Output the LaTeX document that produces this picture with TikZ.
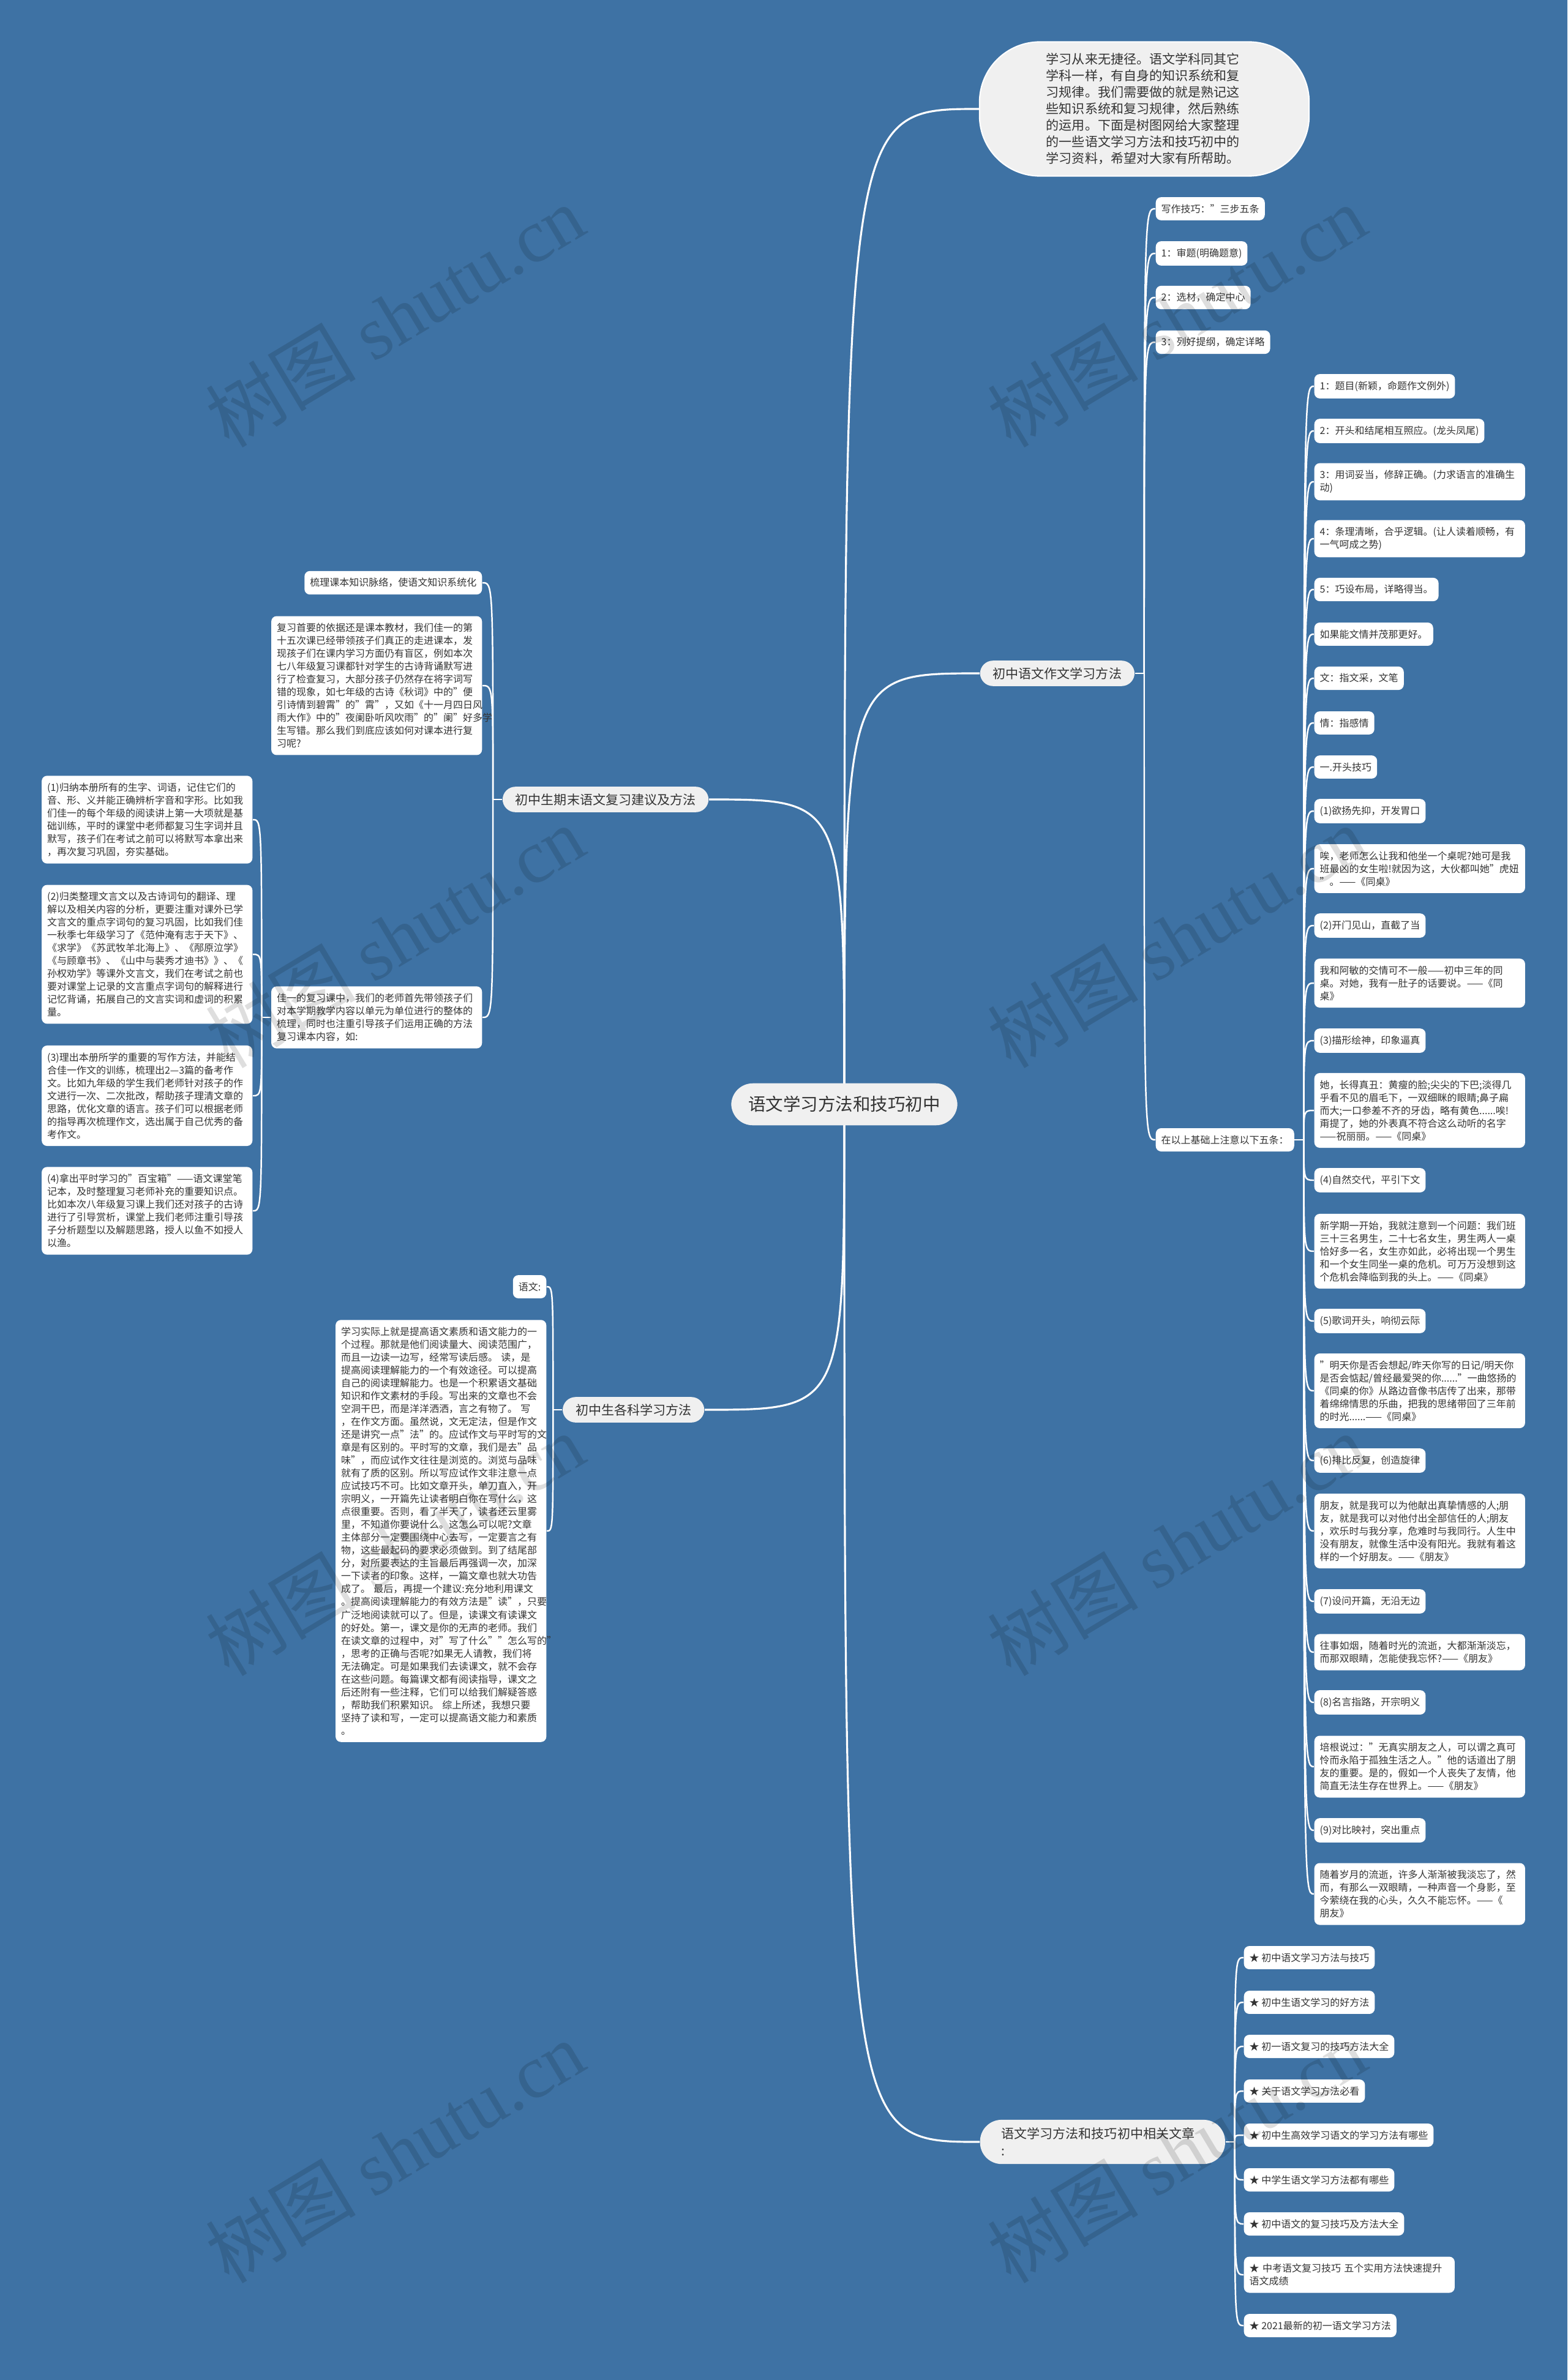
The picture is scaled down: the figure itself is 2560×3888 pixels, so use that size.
\documentclass[tikz,border=0pt]{standalone}
\usepackage{fontspec}
\setmainfont{Noto Sans CJK SC}
\newfontfamily\wmfont{Liberation Serif}
\usetikzlibrary{backgrounds}
\definecolor{bgblue}{RGB}{62,114,164}
\definecolor{pillgray}{RGB}{240,240,240}
\definecolor{inkgray}{RGB}{51,51,51}

\begin{document}
\begin{tikzpicture}[x=0.01cm,y=-0.01cm,
  every node/.style={text=inkgray},
  root node/.style={fill=pillgray,rounded corners=10pt,inner xsep=0.28cm,inner ysep=0.21cm,
    font=\fontsize{8.1pt}{10pt}\selectfont},
  branch node/.style={fill=pillgray,rounded corners=6pt,inner xsep=0.21cm,inner ysep=0.11cm,
    font=\fontsize{5.98pt}{7.97pt}\selectfont},
  leaf node/.style={fill=white,rounded corners=2.5pt,inner xsep=0.09cm,inner ysep=0.115cm,
    font=\fontsize{4.55pt}{5.98pt}\selectfont},
  note node/.style={leaf node,text width=3.26cm,align=left},
  link/.style={draw=white,line width=0.9pt},
  twig/.style={draw=white,line width=0.7pt}]
  \useasboundingbox (0,0) rectangle (2560,3888);

  % centre and main branches
  \node[root node] (root) at (1379,1804) {语文学习方法和技巧初中};
  \node[fill=pillgray,draw=white,line width=0.6pt,rounded corners=28pt,minimum width=5.38cm,
    minimum height=2.19cm,text width=3.2cm,align=left,
    font=\fontsize{5.98pt}{7.68pt}\selectfont] (intro) at (1869,178)
    {学习从来无捷径。语文学科同其它\\学科一样，有自身的知识系统和复\\习规律。我们需要做的就是熟记这\\些知识系统和复习规律，然后熟练\\的运用。下面是树图网给大家整理\\的一些语文学习方法和技巧初中的\\学习资料，希望对大家有所帮助。};
  \node[branch node,anchor=west] (write) at (1600,1100) {初中语文作文学习方法};
  \node[branch node,anchor=east] (review) at (1158,1306) {初中生期末语文复习建议及方法};
  \node[branch node,anchor=east] (subjects) at (1151,2303) {初中生各科学习方法};
  \node[branch node,anchor=west,text width=3.3cm,align=left,inner xsep=0.35cm,
    inner ysep=0.13cm,rounded corners=10pt] (related) at (1600,3499)
    {语文学习方法和技巧初中相关文章\\:};

  % writing
  \node[leaf node,anchor=west] (skill) at (1887,341) {写作技巧："三步五条};
  \node[leaf node,anchor=west] (step1) at (1887,414) {1：审题(明确题意)};
  \node[leaf node,anchor=west] (step2) at (1887,486) {2：选材，确定中心};
  \node[leaf node,anchor=west] (step3) at (1887,559) {3：列好提纲，确定详略};
  \node[leaf node,anchor=west] (five) at (1887,1862) {在以上基础上注意以下五条：};

  \node[leaf node,anchor=west] (f1) at (2146,631) {1：题目(新颖，命题作文例外)};
  \node[leaf node,anchor=west] (f2) at (2146,704) {2：开头和结尾相互照应。(龙头凤尾)};
  \node[note node,anchor=west] (f3) at (2146,787) {3：用词妥当，修辞正确。(力求语言的准确生\\动)};
  \node[note node,anchor=west] (f4) at (2146,880) {4：条理清晰，合乎逻辑。(让人读着顺畅，有\\一气呵成之势)};
  \node[leaf node,anchor=west] (f5) at (2146,963) {5：巧设布局，详略得当。};
  \node[leaf node,anchor=west] (f6) at (2146,1036) {如果能文情并茂那更好。};
  \node[leaf node,anchor=west] (f7) at (2146,1108) {文：指文采，文笔};
  \node[leaf node,anchor=west] (f8) at (2146,1181) {情：指感情};
  \node[leaf node,anchor=west] (f9) at (2146,1253) {一.开头技巧};
  \node[leaf node,anchor=west] (f10) at (2146,1325) {(1)欲扬先抑，开发胃口};
  \node[note node,anchor=west] (f11) at (2146,1419) {唉，老师怎么让我和他坐一个桌呢?她可是我\\班最凶的女生啦!就因为这，大伙都叫她"虎妞\\"。——《同桌》};
  \node[leaf node,anchor=west] (f12) at (2146,1512) {(2)开门见山，直截了当};
  \node[note node,anchor=west] (f13) at (2146,1606) {我和阿敏的交情可不一般——初中三年的同\\桌。对她，我有一肚子的话要说。——《同\\桌》};
  \node[leaf node,anchor=west] (f14) at (2146,1700) {(3)描形绘神，印象逼真};
  \node[note node,anchor=west] (f15) at (2146,1814) {她，长得真丑：黄瘦的脸;尖尖的下巴;淡得几\\乎看不见的眉毛下，一双细眯的眼睛;鼻子扁\\而大;一口参差不齐的牙齿，略有黄色......唉!\\甭提了，她的外表真不符合这么动听的名字\\——祝丽丽。——《同桌》};
  \node[leaf node,anchor=west] (f16) at (2146,1928) {(4)自然交代，平引下文};
  \node[note node,anchor=west] (f17) at (2146,2044) {新学期一开始，我就注意到一个问题：我们班\\三十三名男生，二十七名女生，男生两人一桌\\恰好多一名，女生亦如此，必将出现一个男生\\和一个女生同坐一桌的危机。可万万没想到这\\个危机会降临到我的头上。——《同桌》};
  \node[leaf node,anchor=west] (f18) at (2146,2158) {(5)歌词开头，响彻云际};
  \node[note node,anchor=west] (f19) at (2146,2272) {"明天你是否会想起/昨天你写的日记/明天你\\是否会惦起/曾经最爱哭的你......"一曲悠扬的\\《同桌的你》从路边音像书店传了出来，那带\\着绵绵情思的乐曲，把我的思绪带回了三年前\\的时光......——《同桌》};
  \node[leaf node,anchor=west] (f20) at (2146,2386) {(6)排比反复，创造旋律};
  \node[note node,anchor=west] (f21) at (2146,2501) {朋友，就是我可以为他献出真挚情感的人;朋\\友，就是我可以对他付出全部信任的人;朋友\\，欢乐时与我分享，危难时与我同行。人生中\\没有朋友，就像生活中没有阳光。我就有着这\\样的一个好朋友。——《朋友》};
  \node[leaf node,anchor=west] (f22) at (2146,2616) {(7)设问开篇，无沿无边};
  \node[note node,anchor=west] (f23) at (2146,2699) {往事如烟，随着时光的流逝，大都渐渐淡忘，\\而那双眼睛，怎能使我忘怀?——《朋友》};
  \node[leaf node,anchor=west] (f24) at (2146,2781) {(8)名言指路，开宗明义};
  \node[note node,anchor=west] (f25) at (2146,2886) {培根说过："无真实朋友之人，可以谓之真可\\怜而永陷于孤独生活之人。"他的话道出了朋\\友的重要。是的，假如一个人丧失了友情，他\\简直无法生存在世界上。——《朋友》};
  \node[leaf node,anchor=west] (f26) at (2146,2990) {(9)对比映衬，突出重点};
  \node[note node,anchor=west] (f27) at (2146,3094) {随着岁月的流逝，许多人渐渐被我淡忘了，然\\而，有那么一双眼睛，一种声音一个身影，至\\今萦绕在我的心头，久久不能忘怀。——《\\朋友》};

  % review
  \node[leaf node,anchor=east] (sort) at (788,952) {梳理课本知识脉络，使语文知识系统化};
  \node[note node,anchor=east] (basis) at (788,1120) {复习首要的依据还是课本教材，我们佳一的第\\十五次课已经带领孩子们真正的走进课本，发\\现孩子们在课内学习方面仍有盲区，例如本次\\七八年级复习课都针对学生的古诗背诵默写进\\行了检查复习，大部分孩子仍然存在将字词写\\错的现象，如七年级的古诗《秋词》中的"便\\引诗情到碧霄"的"霄"，又如《十一月四日风\\雨大作》中的"夜阑卧听风吹雨"的"阑"好多学\\生写错。那么我们到底应该如何对课本进行复\\习呢?};
  \node[note node,anchor=east] (lesson) at (788,1662) {佳一的复习课中，我们的老师首先带领孩子们\\对本学期教学内容以单元为单位进行的整体的\\梳理，同时也注重引导孩子们运用正确的方法\\复习课本内容，如:};
  \node[note node,anchor=east] (tip1) at (413,1339) {(1)归纳本册所有的生字、词语，记住它们的\\音、形、义并能正确辨析字音和字形。比如我\\们佳一的每个年级的阅读讲上第一大项就是基\\础训练，平时的课堂中老师都复习生字词并且\\默写，孩子们在考试之前可以将默写本拿出来\\，再次复习巩固，夯实基础。};
  \node[note node,anchor=east] (tip2) at (413,1559) {(2)归类整理文言文以及古诗词句的翻译、理\\解以及相关内容的分析，更要注重对课外已学\\文言文的重点字词句的复习巩固，比如我们佳\\一秋季七年级学习了《范仲淹有志于天下》、\\《求学》《苏武牧羊北海上》、《邴原泣学》\\《与顾章书》、《山中与裴秀才迪书》》、《\\孙权劝学》等课外文言文，我们在考试之前也\\要对课堂上记录的文言重点字词句的解释进行\\记忆背诵，拓展自己的文言实词和虚词的积累\\量。};
  \node[note node,anchor=east] (tip3) at (413,1790) {(3)理出本册所学的重要的写作方法，并能结\\合佳一作文的训练，梳理出2—3篇的备考作\\文。比如九年级的学生我们老师针对孩子的作\\文进行一次、二次批改，帮助孩子理清文章的\\思路，优化文章的语言。孩子们可以根据老师\\的指导再次梳理作文，选出属于自己优秀的备\\考作文。};
  \node[note node,anchor=east] (tip4) at (413,1978) {(4)拿出平时学习的"百宝箱"——语文课堂笔\\记本，及时整理复习老师补充的重要知识点。\\比如本次八年级复习课上我们还对孩子的古诗\\进行了引导赏析，课堂上我们老师注重引导孩\\子分析题型以及解题思路，授人以鱼不如授人\\以渔。};

  % subjects
  \node[leaf node,anchor=east] (yuwen) at (893,2102) {语文:};
  \node[note node,anchor=east] (essay) at (893,2501) {学习实际上就是提高语文素质和语文能力的一\\个过程。那就是他们阅读量大、阅读范围广，\\而且一边读一边写，经常写读后感。 读，是\\提高阅读理解能力的一个有效途径。可以提高\\自己的阅读理解能力。也是一个积累语文基础\\知识和作文素材的手段。写出来的文章也不会\\空洞干巴，而是洋洋洒洒，言之有物了。 写\\，在作文方面。虽然说，文无定法，但是作文\\还是讲究一点"法"的。应试作文与平时写的文\\章是有区别的。平时写的文章，我们是去"品\\味"，而应试作文往往是浏览的。浏览与品味\\就有了质的区别。所以写应试作文非注意一点\\应试技巧不可。比如文章开头，单刀直入，开\\宗明义，一开篇先让读者明白你在写什么，这\\点很重要。否则，看了半天了，读者还云里雾\\里，不知道你要说什么。这怎么可以呢?文章\\主体部分一定要围绕中心去写，一定要言之有\\物，这些最起码的要求必须做到。到了结尾部\\分，对所要表达的主旨最后再强调一次，加深\\一下读者的印象。这样，一篇文章也就大功告\\成了。 最后，再提一个建议:充分地利用课文\\。提高阅读理解能力的有效方法是"读"，只要\\广泛地阅读就可以了。但是，读课文有读课文\\的好处。第一，课文是你的无声的老师。我们\\在读文章的过程中，对"写了什么""怎么写的"\\，思考的正确与否呢?如果无人请教，我们将\\无法确定。可是如果我们去读课文，就不会存\\在这些问题。每篇课文都有阅读指导，课文之\\后还附有一些注释，它们可以给我们解疑答惑\\，帮助我们积累知识。 综上所述，我想只要\\坚持了读和写，一定可以提高语文能力和素质\\。};

  % related articles
  \node[leaf node,anchor=west] (art1) at (2031,3198) {★ 初中语文学习方法与技巧};
  \node[leaf node,anchor=west] (art2) at (2031,3271) {★ 初中生语文学习的好方法};
  \node[leaf node,anchor=west] (art3) at (2031,3343) {★ 初一语文复习的技巧方法大全};
  \node[leaf node,anchor=west] (art4) at (2031,3416) {★ 关于语文学习方法必看};
  \node[leaf node,anchor=west] (art5) at (2031,3488) {★ 初中生高效学习语文的学习方法有哪些};
  \node[leaf node,anchor=west] (art6) at (2031,3561) {★ 中学生语文学习方法都有哪些};
  \node[leaf node,anchor=west] (art7) at (2031,3633) {★ 初中语文的复习技巧及方法大全};
  \node[note node,anchor=west] (art8) at (2031,3716) {★ 中考语文复习技巧 五个实用方法快速提升\\语文成绩};
  \node[leaf node,anchor=west] (art9) at (2031,3799) {★ 2021最新的初一语文学习方法};

  \coordinate (writejoint) at ([xshift=0.15cm]write.east);
  \coordinate (fivejoint) at ([xshift=0.15cm]five.east);
  \coordinate (relatedjoint) at ([xshift=0.15cm]related.east);
  \coordinate (reviewjoint) at ([xshift=-0.15cm]review.west);
  \coordinate (lessonjoint) at ([xshift=-0.15cm]lesson.west);
  \coordinate (subjectsjoint) at ([xshift=-0.15cm]subjects.west);

  \begin{scope}[on background layer]
    \fill[bgblue] (0,0) rectangle (2560,3888);
    % root to branches
    \draw[link] (root.center) .. controls (root.center |- intro.west) .. (intro.west);
    \draw[link] (root.center) .. controls (root.center |- write.west) .. (write.west);
    \draw[link] (root.center) .. controls (root.center |- review.east) .. (review.east);
    \draw[link] (root.center) .. controls (root.center |- subjects.east) .. (subjects.east);
    \draw[link] (root.center) .. controls (root.center |- related.west) .. (related.west);
    % branches to leaves
    \draw[twig] (write.east) -- (writejoint);
    \foreach \c in {skill,step1,step2,step3,five}
      \draw[twig] (writejoint) .. controls (writejoint |- \c.west) .. (\c.west);
    \draw[twig] (five.east) -- (fivejoint);
    \foreach \i in {1,...,27}
      \draw[twig] (fivejoint) .. controls (fivejoint |- f\i.west) .. (f\i.west);
    \draw[twig] (related.east) -- (relatedjoint);
    \foreach \i in {1,...,9}
      \draw[twig] (relatedjoint) .. controls (relatedjoint |- art\i.west) .. (art\i.west);
    \draw[twig] (review.west) -- (reviewjoint);
    \foreach \c in {sort,basis,lesson}
      \draw[twig] (reviewjoint) .. controls (reviewjoint |- \c.east) .. (\c.east);
    \draw[twig] (lesson.west) -- (lessonjoint);
    \foreach \i in {1,...,4}
      \draw[twig] (lessonjoint) .. controls (lessonjoint |- tip\i.east) .. (tip\i.east);
    \draw[twig] (subjects.west) -- (subjectsjoint);
    \foreach \c in {yuwen,essay}
      \draw[twig] (subjectsjoint) .. controls (subjectsjoint |- \c.east) .. (\c.east);
  \end{scope}

  % watermark
  \foreach \wx in {645,1922}
    \foreach \wy in {516,1530,2523,3515}
      \node[rotate=31,opacity=0.13,text=black,font=\fontsize{35pt}{35pt}\selectfont]
        (wm\wx\wy) at (\wx,\wy) {树图 {\wmfont shutu.cn}};
\end{tikzpicture}
\end{document}
